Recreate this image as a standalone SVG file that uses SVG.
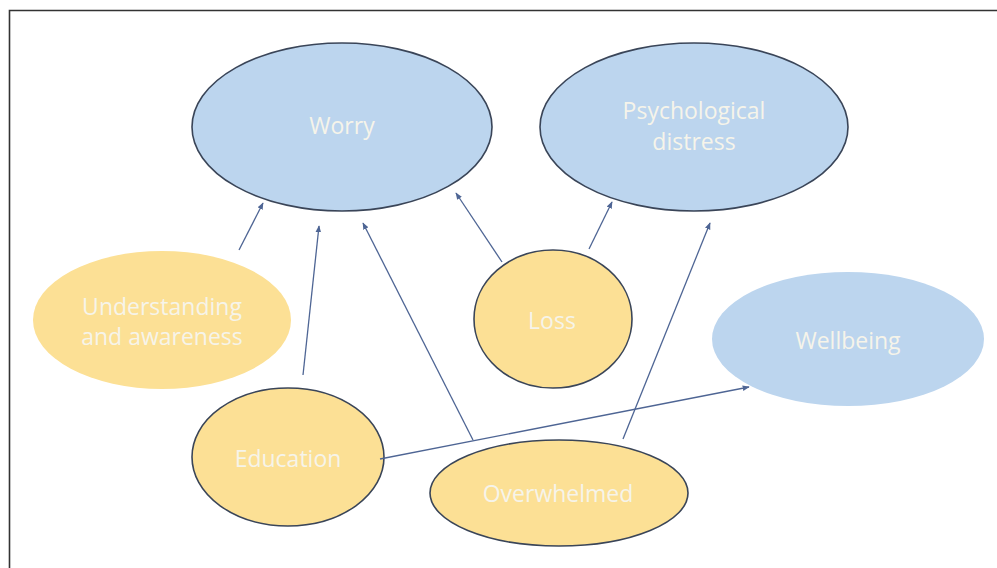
<svg xmlns="http://www.w3.org/2000/svg" width="997" height="568" viewBox="0 0 997 568">
<style>
.blue{fill:#bcd5ee}
.yel{fill:#fce095}
.st{stroke:#3a4558;stroke-width:1.6}
.lbl{font-family:"Open Sans","Liberation Sans",sans-serif;font-size:23px;fill:#f6f4ea;text-anchor:middle}
.conn line{stroke:#4e6594;stroke-width:1.3;fill:none;marker-end:url(#ah)}
</style>
<defs>
<marker id="ah" viewBox="0 0 10 10" refX="9" refY="5" markerWidth="7" markerHeight="7" markerUnits="userSpaceOnUse" orient="auto">
<path d="M0,1 L10,5 L0,9 z" fill="#4e6594"/>
</marker>
</defs>
<rect x="0" y="0" width="997" height="568" fill="#ffffff"/>
<path d="M9.5 568 V10.5 H997" fill="none" stroke="#333333" stroke-width="1.6"/>
<g id="worry"><ellipse class="blue st" cx="342" cy="127" rx="150" ry="84"/><text class="lbl" x="342" y="134">Worry</text></g>
<g id="psychological-distress"><ellipse class="blue st" cx="694" cy="127" rx="154" ry="84"/><text class="lbl" x="694" y="119">Psychological</text><text class="lbl" x="694" y="150">distress</text></g>
<g id="wellbeing"><ellipse class="blue" cx="848" cy="339" rx="136" ry="67"/><text class="lbl" x="848" y="349">Wellbeing</text></g>
<g id="understanding"><ellipse class="yel" cx="162" cy="320" rx="129" ry="69"/><text class="lbl" x="162" y="315">Understanding</text><text class="lbl" x="162" y="345">and awareness</text></g>
<g id="loss"><ellipse class="yel st" cx="553" cy="319" rx="79" ry="69"/><text class="lbl" x="552" y="329">Loss</text></g>
<g id="education"><ellipse class="yel st" cx="288" cy="457" rx="96" ry="69"/><text class="lbl" x="288" y="467">Education</text></g>
<g id="overwhelmed"><ellipse class="yel st" cx="559" cy="493" rx="129" ry="53"/><text class="lbl" x="558" y="502">Overwhelmed</text></g>
<g id="connectors" class="conn">
<line x1="239" y1="250" x2="263" y2="203"/>
<line x1="303" y1="375" x2="319" y2="226"/>
<line x1="473" y1="440" x2="363" y2="223"/>
<line x1="502" y1="262" x2="456" y2="193"/>
<line x1="589" y1="249" x2="612" y2="202"/>
<line x1="623" y1="439" x2="710" y2="223"/>
<line x1="380" y1="459" x2="749" y2="387"/>
</g>
</svg>
